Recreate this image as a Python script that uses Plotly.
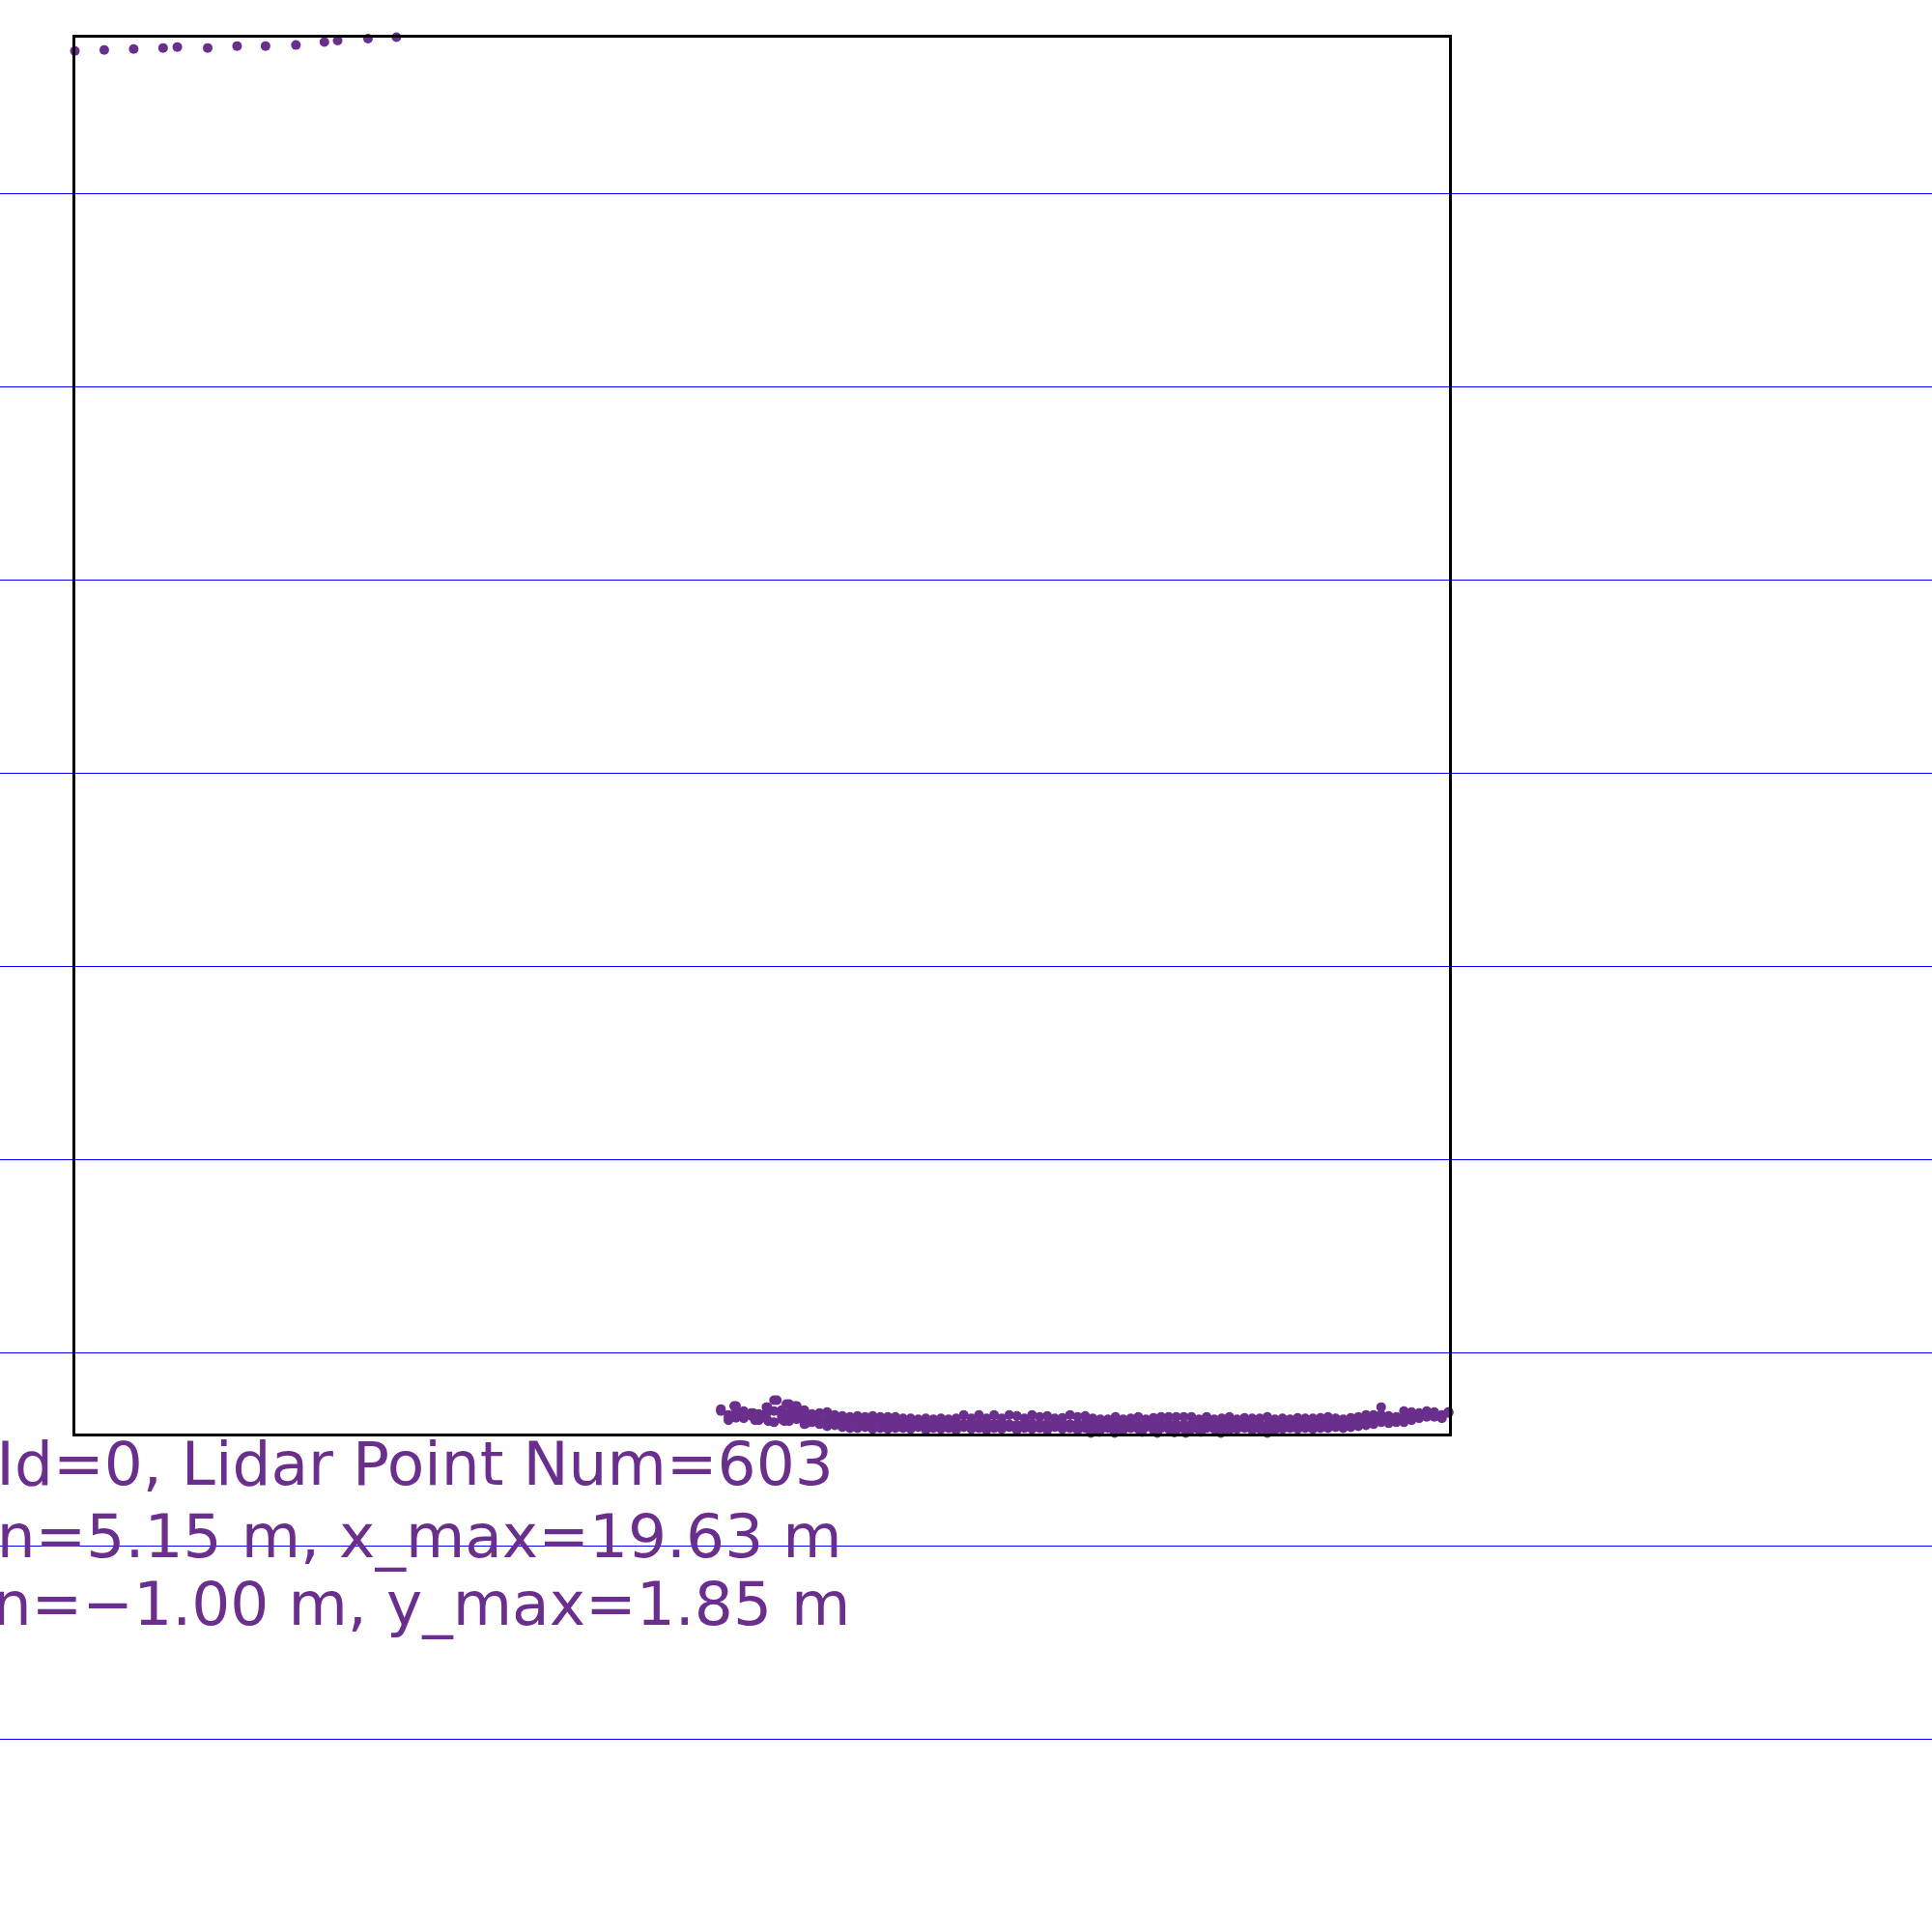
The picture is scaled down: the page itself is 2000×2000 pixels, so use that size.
import plotly.graph_objects as go

# ---------------- data (metres) ----------------
x_min, x_max = 5.15, 19.63
y_min, y_max = -1.00, 1.85
frame_id = 0
point_num = 603

# upper-left cluster
top_x = [5.15, 5.46, 5.77, 6.08, 6.23, 6.55, 6.86, 7.16, 7.48, 7.78, 7.92, 8.24, 8.54]
top_y = [1.822, 1.824, 1.826, 1.828, 1.830, 1.828, 1.832, 1.832, 1.834, 1.840, 1.843, 1.847, 1.850]

# ground band: column positions with upper, middle and lower returns
ground_x = [11.96, 12.04, 12.12, 12.20, 12.28, 12.36, 12.44, 12.52, 12.60, 12.68,
            12.76, 12.84, 12.92, 13.00, 13.08, 13.16, 13.24, 13.32, 13.40, 13.48,
            13.56, 13.64, 13.72, 13.80, 13.88, 13.96, 14.04, 14.12, 14.20, 14.28,
            14.36, 14.44, 14.52, 14.60, 14.68, 14.76, 14.84, 14.92, 15.00, 15.08,
            15.16, 15.24, 15.32, 15.40, 15.48, 15.56, 15.64, 15.72, 15.80, 15.88,
            15.96, 16.04, 16.12, 16.20, 16.28, 16.36, 16.44, 16.52, 16.60, 16.68,
            16.76, 16.84, 16.92, 17.00, 17.08, 17.16, 17.24, 17.32, 17.40, 17.48,
            17.56, 17.64, 17.72, 17.80, 17.88, 17.96, 18.04, 18.12, 18.20, 18.28,
            18.36, 18.44, 18.52, 18.60, 18.68, 18.76, 18.84, 18.92, 19.00, 19.08,
            19.16, 19.24, 19.32, 19.40, 19.48, 19.56, 19.63]
ground_top_y = [-0.951, -0.963, -0.945, -0.957, -0.959, -0.961, -0.947, -0.933, -0.953, -0.941,
                -0.945, -0.953, -0.961, -0.959, -0.957, -0.963, -0.965, -0.967, -0.965, -0.967,
                -0.965, -0.967, -0.967, -0.967, -0.970, -0.970, -0.972, -0.970, -0.972, -0.970,
                -0.972, -0.970, -0.963, -0.970, -0.963, -0.970, -0.963, -0.970, -0.963, -0.965,
                -0.970, -0.963, -0.967, -0.965, -0.970, -0.969, -0.963, -0.967, -0.965, -0.970,
                -0.972, -0.972, -0.967, -0.972, -0.970, -0.967, -0.972, -0.969, -0.967, -0.967,
                -0.967, -0.967, -0.967, -0.972, -0.967, -0.972, -0.970, -0.967, -0.972, -0.969,
                -0.970, -0.970, -0.967, -0.972, -0.970, -0.972, -0.969, -0.970, -0.970, -0.969,
                -0.967, -0.970, -0.972, -0.969, -0.967, -0.963, -0.963, -0.947, -0.965, -0.967,
                -0.955, -0.957, -0.959, -0.955, -0.957, -0.963, -0.957]
ground_mid_y = [-0.953, -0.969, -0.957, -0.963, -0.963, -0.967, -0.959, -0.955, -0.963, -0.959,
                -0.959, -0.967, -0.970, -0.970, -0.972, -0.974, -0.976, -0.978, -0.976, -0.978,
                -0.978, -0.978, -0.980, -0.978, -0.980, -0.982, -0.981, -0.980, -0.983, -0.981,
                -0.980, -0.982, -0.981, -0.983, -0.980, -0.982, -0.981, -0.980, -0.982, -0.983,
                -0.981, -0.980, -0.982, -0.981, -0.983, -0.980, -0.982, -0.981, -0.980, -0.983,
                -0.982, -0.981, -0.980, -0.982, -0.981, -0.983, -0.980, -0.982, -0.981, -0.980,
                -0.982, -0.983, -0.981, -0.980, -0.982, -0.981, -0.983, -0.980, -0.982, -0.981,
                -0.980, -0.982, -0.983, -0.981, -0.980, -0.982, -0.981, -0.980, -0.981, -0.980,
                -0.980, -0.979, -0.980, -0.979, -0.976, -0.972, -0.972, -0.963, -0.970, -0.972,
                -0.967, -0.967, -0.965, -0.961, -0.961, -0.967, -0.957]
ground_low_y = [-0.955, -0.974, -0.969, -0.970, -0.965, -0.974, -0.970, -0.978, -0.972, -0.976,
                -0.972, -0.982, -0.978, -0.982, -0.986, -0.984, -0.988, -0.990, -0.990, -0.988,
                -0.992, -0.990, -0.992, -0.990, -0.990, -0.992, -0.988, -0.994, -0.990, -0.992,
                -0.990, -0.994, -0.988, -0.992, -0.990, -0.994, -0.990, -0.992, -0.988, -0.994,
                -0.990, -0.992, -0.990, -0.994, -0.988, -0.992, -0.990, -0.994, -0.990, -0.992,
                -0.994, -0.990, -0.992, -0.994, -0.990, -0.992, -0.988, -0.994, -0.990, -0.992,
                -0.994, -0.990, -0.992, -0.994, -0.990, -0.992, -0.990, -0.994, -0.992, -0.990,
                -0.994, -0.992, -0.990, -0.994, -0.992, -0.990, -0.992, -0.990, -0.992, -0.990,
                -0.990, -0.988, -0.990, -0.988, -0.986, -0.984, -0.982, -0.978, -0.980, -0.978,
                -0.978, -0.974, -0.970, -0.967, -0.967, -0.970, -0.959]

# lowest returns near y_min
floor_x = [15.86, 15.95, 16.11, 16.40, 16.56, 16.74, 16.86, 17.02, 17.23, 17.72]
floor_y = [-1.000, -0.998, -1.000, -0.998, -1.000, -0.999, -1.000, -0.998, -1.000, -1.000]

# scattered returns at the near end of the ground band
scatter_x = [12.10, 12.55, 12.65, 12.74, 12.45, 12.20, 12.30, 12.05, 12.32, 12.46,
             12.63, 12.86, 13.02, 12.15, 12.41, 12.71, 12.94]
scatter_y = [-0.945, -0.933, -0.941, -0.945, -0.947, -0.955, -0.959, -0.965, -0.974, -0.976,
             -0.976, -0.980, -0.980, -0.963, -0.963, -0.963, -0.967]

info_lines = [
    f"Frame Id={frame_id}, Lidar Point Num={point_num}",
    f"x_min={x_min:.2f} m, x_max={x_max:.2f} m",
    f"y_min={y_min:.2f} m, y_max={y_max:.2f} m".replace("-", "\u2212"),
]

# ---------------- styling ----------------
W = H = 2000
purple = "rgb(106,46,140)"
guide_rows_px = [200, 400, 600, 800, 1000, 1200, 1400, 1600, 1800]
text_right_px = [864, 873, 881]
text_mid_px = [1515, 1590, 1660]
box_lw = 3
half = box_lw / 2
box_left, box_right, box_top, box_bottom = 76, 1501, 37, 1485

all_x = top_x + ground_x + ground_x + ground_x + floor_x + scatter_x
all_y = top_y + ground_top_y + ground_mid_y + ground_low_y + floor_y + scatter_y

fig = go.Figure()
fig.add_trace(go.Scatter(
    x=all_x, y=all_y, mode="markers",
    marker=dict(size=10, color=purple, line=dict(width=0)),
    cliponaxis=False, hoverinfo="skip", showlegend=False,
))

shapes = []
for r in guide_rows_px:
    yp = 1 - (r + 0.5) / H
    shapes.append(dict(type="line", xref="paper", yref="paper", x0=0, x1=1,
                       y0=yp, y1=yp, line=dict(color="rgb(0,0,255)", width=1),
                       layer="below"))

annotations = []
for t, xr, ym in zip(info_lines, text_right_px, text_mid_px):
    annotations.append(dict(text=t, xref="paper", yref="paper", x=xr / W, y=1 - ym / H,
                            xanchor="right", yanchor="middle", showarrow=False,
                            borderpad=0,
                            font=dict(family="DejaVu Sans", size=63, color=purple)))

fig.update_layout(
    width=W, height=H, margin=dict(l=0, r=0, t=0, b=0, pad=0),
    paper_bgcolor="white", plot_bgcolor="white",
    shapes=shapes, annotations=annotations, showlegend=False,
    xaxis=dict(range=[x_min, x_max],
               domain=[(box_left + half) / W, (box_right - half) / W], showgrid=False,
               zeroline=False, showticklabels=False, ticks="", showline=True,
               linecolor="black", linewidth=box_lw, mirror=True),
    yaxis=dict(range=[y_min, y_max],
               domain=[1 - (box_bottom - half) / H, 1 - (box_top + half) / H], showgrid=False,
               zeroline=False, showticklabels=False, ticks="", showline=True,
               linecolor="black", linewidth=box_lw, mirror=True),
)

fig.write_html("out.html")
